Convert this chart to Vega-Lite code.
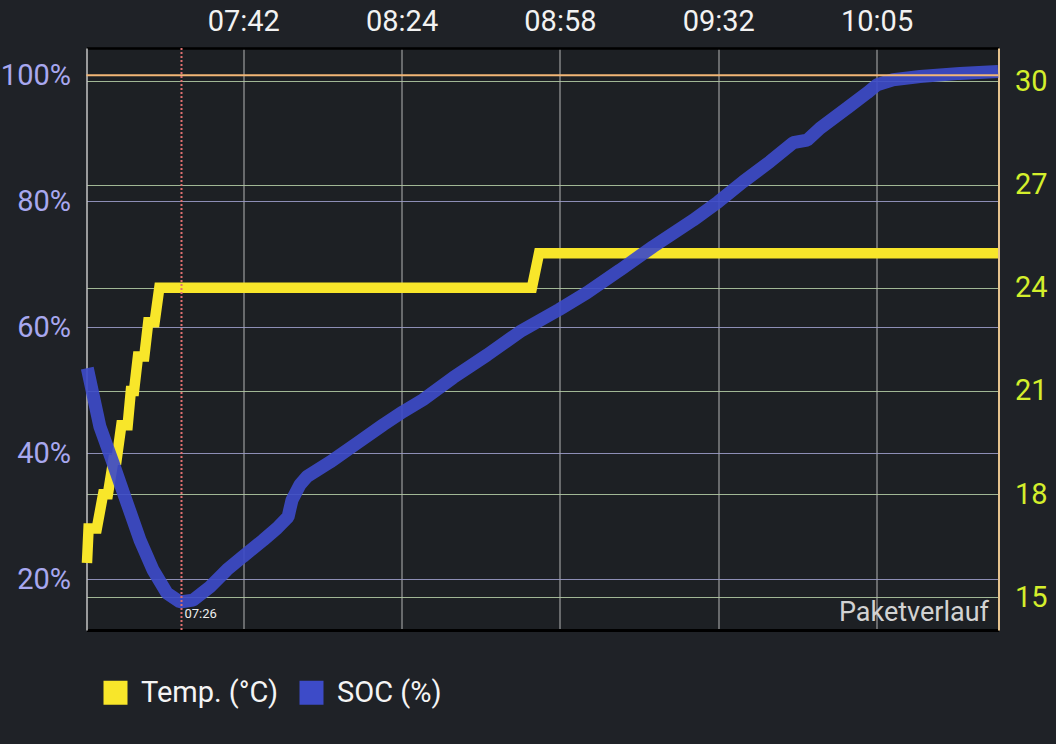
{
  "$schema": "https://vega.github.io/schema/vega-lite/v6.json",
  "width": 912,
  "height": 582,
  "autosize": {"type": "none"},
  "padding": {"left": 86.5, "top": 48, "right": 57.5, "bottom": 114},
  "background": "#1f2227",
  "config": {
    "font": "Roboto",
    "view": {"stroke": null, "fill": "#1d2024"},
    "legend": {
      "orient": "none",
      "legendX": 14.5,
      "legendY": 630,
      "direction": "horizontal",
      "symbolType": "square",
      "symbolSize": 576,
      "labelFontSize": 29,
      "labelFont": "Roboto",
      "labelColor": "#f4f4f4",
      "labelOffset": 11,
      "columnPadding": 18,
      "padding": 0,
      "title": null
    }
  },
  "datasets": {
    "temp": [
      {"i": 1.3, "temp": 16}, {"i": 2.3, "temp": 17}, {"i": 7.5, "temp": 17},
      {"i": 11.5, "temp": 18}, {"i": 14.5, "temp": 18}, {"i": 18, "temp": 19},
      {"i": 20, "temp": 19}, {"i": 23, "temp": 20}, {"i": 27, "temp": 20},
      {"i": 29, "temp": 21}, {"i": 31, "temp": 21}, {"i": 33.5, "temp": 22},
      {"i": 37.5, "temp": 22}, {"i": 40, "temp": 23}, {"i": 44, "temp": 23},
      {"i": 47, "temp": 24}, {"i": 282.3, "temp": 24}, {"i": 286.8, "temp": 25},
      {"i": 576.7, "temp": 25}
    ],
    "soc": [
      {"i": 1.5, "soc": 53.5}, {"i": 9.5, "soc": 44.2}, {"i": 17.7, "soc": 38.5},
      {"i": 26.6, "soc": 32.1}, {"i": 34.8, "soc": 26.2}, {"i": 43.0, "soc": 21.5},
      {"i": 51.8, "soc": 17.8}, {"i": 60.0, "soc": 16.4}, {"i": 68.3, "soc": 16.7},
      {"i": 79.0, "soc": 18.8}, {"i": 89.7, "soc": 21.5}, {"i": 99.8, "soc": 23.6},
      {"i": 112.5, "soc": 26.2}, {"i": 121.3, "soc": 28.1}, {"i": 128.3, "soc": 29.9},
      {"i": 130.8, "soc": 32.6}, {"i": 135.8, "soc": 35.0}, {"i": 140.3, "soc": 36.3},
      {"i": 154.8, "soc": 38.6}, {"i": 171.8, "soc": 41.6}, {"i": 188.3, "soc": 44.5},
      {"i": 200.9, "soc": 46.6}, {"i": 213.5, "soc": 48.5}, {"i": 232.5, "soc": 52.0},
      {"i": 254.0, "soc": 55.6}, {"i": 274.8, "soc": 59.3}, {"i": 299.4, "soc": 62.8},
      {"i": 317.1, "soc": 65.5}, {"i": 338.0, "soc": 69.1}, {"i": 358.8, "soc": 72.8},
      {"i": 384.1, "soc": 77.0}, {"i": 399.9, "soc": 79.9}, {"i": 415.7, "soc": 83.1},
      {"i": 432.7, "soc": 86.3}, {"i": 447.3, "soc": 89.3}, {"i": 456.1, "soc": 89.7},
      {"i": 464.3, "soc": 91.6}, {"i": 481.4, "soc": 94.8}, {"i": 494.0, "soc": 97.2},
      {"i": 500.3, "soc": 98.5}, {"i": 510.4, "soc": 99.3}, {"i": 527.5, "soc": 99.8},
      {"i": 552.7, "soc": 100.3}, {"i": 576.7, "soc": 100.6}
    ],
    "marker": [{"i": 61, "label": "07:26"}],
    "limit": [{"soc": 100}],
    "caption": [{"i": 577, "temp": 14.05, "text": "Paketverlauf"}]
  },
  "resolve": {"scale": {"y": "independent"}, "axis": {"x": "independent"}},
  "layer": [
    {
      "data": {"name": "temp"},
      "mark": {"type": "line", "strokeWidth": 10.5, "strokeCap": "butt", "strokeJoin": "miter"},
      "encoding": {
        "x": {
          "field": "i", "type": "quantitative",
          "scale": {"domain": [1, 577], "nice": false, "zero": false},
          "axis": {
            "orient": "top", "title": null, "values": [100, 200, 300, 400, 500],
            "labelExpr": "{'100':'07:42','200':'08:24','300':'08:58','400':'09:32','500':'10:05'}[datum.value]",
            "labelColor": "#f2f2f2", "labelFontSize": 29, "labelPadding": 12, "ticks": false,
            "domainColor": "#000000", "domainWidth": 2.5,
            "grid": true, "gridColor": "#cfcfcf", "gridWidth": 1, "gridOpacity": 0.85
          }
        },
        "y": {
          "field": "temp", "type": "quantitative",
          "scale": {"domain": [14.05, 30.97], "nice": false, "zero": false},
          "axis": {
            "orient": "right", "title": null, "values": [15, 18, 21, 24, 27, 30],
            "labelColor": "#d4ef2c", "labelFontSize": 29, "labelPadding": 16, "ticks": false,
            "domainColor": "#e6c38e", "domainWidth": 2,
            "grid": true, "gridColor": "#b0c8a2", "gridWidth": 1, "gridOpacity": 0.9
          }
        },
        "color": {
          "datum": "Temp. (°C)", "type": "nominal",
          "scale": {"domain": ["Temp. (°C)", "SOC (%)"], "range": ["#f8e62a", "#3d4bc8"]},
          "legend": {
            "encode": {"symbols": {"update": {"fill": {"scale": "color", "field": "value"}, "fillOpacity": {"value": 1}, "strokeWidth": {"value": 0}}}}
          }
        }
      }
    },
    {
      "data": {"name": "soc"},
      "mark": {"type": "line", "strokeWidth": 13, "strokeCap": "butt", "strokeJoin": "bevel", "opacity": 0.92},
      "encoding": {
        "x": {
          "field": "i", "type": "quantitative",
          "axis": {"orient": "bottom", "title": null, "labels": false, "ticks": false, "grid": false, "domainColor": "#000000", "domainWidth": 3}
        },
        "y": {
          "field": "soc", "type": "quantitative",
          "scale": {"domain": [11.95, 104.33], "nice": false, "zero": false},
          "axis": {
            "orient": "left", "title": null, "values": [20, 40, 60, 80, 100],
            "labelExpr": "datum.value + '%'",
            "labelColor": "#a8a8ef", "labelFontSize": 29, "labelPadding": 16, "ticks": false,
            "domainColor": "#c4c4c4", "domainWidth": 1.5,
            "grid": true, "gridColor": "#9a9ac6", "gridWidth": 1, "gridOpacity": 0.9
          }
        },
        "color": {"datum": "SOC (%)", "type": "nominal"}
      }
    },
    {
      "data": {"name": "limit"},
      "mark": {"type": "rule", "color": "#f2b676", "strokeWidth": 2},
      "encoding": {
        "y": {"field": "soc", "type": "quantitative", "scale": {"domain": [11.95, 104.33], "nice": false, "zero": false}, "axis": null}
      }
    },
    {
      "data": {"name": "marker"},
      "mark": {"type": "rule", "color": "#e07070", "strokeWidth": 2, "strokeDash": [2, 2]},
      "encoding": {
        "x": {"field": "i", "type": "quantitative", "axis": null}
      }
    },
    {
      "data": {"name": "marker"},
      "mark": {"type": "text", "align": "left", "baseline": "alphabetic", "dx": 3, "dy": -12, "fontSize": 13, "color": "#eeeeee"},
      "encoding": {
        "x": {"field": "i", "type": "quantitative", "axis": null},
        "y": {"datum": 14.05, "type": "quantitative", "scale": {"domain": [14.05, 30.97], "nice": false, "zero": false}, "axis": null},
        "text": {"field": "label"}
      }
    },
    {
      "data": {"name": "caption"},
      "mark": {"type": "text", "align": "right", "baseline": "alphabetic", "dx": -9.5, "dy": -9.5, "fontSize": 27, "color": "#d2d2d2"},
      "encoding": {
        "x": {"field": "i", "type": "quantitative", "axis": null},
        "y": {"field": "temp", "type": "quantitative", "scale": {"domain": [14.05, 30.97], "nice": false, "zero": false}, "axis": null},
        "text": {"field": "text"}
      }
    }
  ]
}
